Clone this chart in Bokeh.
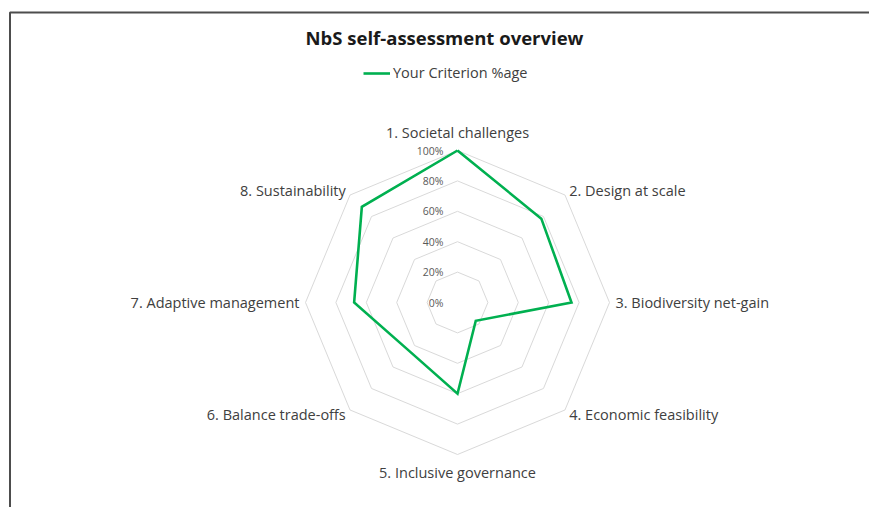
import numpy as np
from bokeh.plotting import figure
from bokeh.models import ColumnDataSource, Label, Legend, LegendItem, BoxAnnotation, Range1d
from bokeh.core.properties import value
from bokeh.embed import file_html
from bokeh.resources import INLINE

# ---------------- data ----------------
title_text = "NbS self-assessment overview"
series_name = "Your Criterion %age"
categories = [
    "1. Societal challenges",
    "2. Design at scale",
    "3. Biodiversity net-gain",
    "4. Economic feasibility",
    "5. Inclusive governance",
    "6. Balance trade-offs",
    "7. Adaptive management",
    "8. Sustainability",
]
scores = [100, 78, 75, 17, 60, 45, 68, 89]
ring_levels = [20, 40, 60, 80, 100]
tick_levels = [0, 20, 40, 60, 80, 100]
tick_labels = ["0%", "20%", "40%", "60%", "80%", "100%"]

# ---------------- layout ----------------
W, H = 869, 507
CX, CY = 457, 302      # radar centre, px from figure top-left
PX = 1.52              # px per percentage point
FONT = "Open Sans"
TEXT_COLOR = "#404040"
GREEN = "#00b050"

xr = Range1d(-CX / PX, (W - CX) / PX)
yr = Range1d(-(H - CY) / PX, CY / PX)
p = figure(width=W, height=H, output_backend="svg", toolbar_location=None,
           x_range=xr, y_range=yr,
           x_axis_type=None, y_axis_type=None, title=None, min_border=0)
p.grid.visible = False
p.outline_line_color = None
p.background_fill_color = "white"
p.border_fill_color = "white"

n = len(categories)
theta = np.pi / 2 - np.arange(n) * 2 * np.pi / n
cos_t, sin_t = np.cos(theta), np.sin(theta)

# grid rings
ring_xs = [list(np.append(lv * cos_t, lv * cos_t[0])) for lv in ring_levels]
ring_ys = [list(np.append(lv * sin_t, lv * sin_t[0])) for lv in ring_levels]
p.multi_line(xs=ring_xs, ys=ring_ys, line_color="#d9d9d9", line_width=1)

# series
sc = np.array(scores, dtype=float)
sx = np.append(sc * cos_t, sc[0] * cos_t[0])
sy = np.append(sc * sin_t, sc[0] * sin_t[0])
r_series = p.line(sx, sy, line_color=GREEN, line_width=2.6, line_join="miter")

# tick labels
p.text(x=[0] * len(tick_levels), y=tick_levels, text=tick_labels,
       x_offset=-14, text_align="right", text_baseline="middle",
       text_font=value(FONT), text_font_size="10.5px", text_color="#595959")

# category labels
aligns, baselines, xo, yo = [], [], [], []
for c, s in zip(cos_t, sin_t):
    if abs(c) < 0.1:
        aligns.append("center")
        if s > 0:
            baselines.append("bottom"); xo.append(0); yo.append(-9)
        else:
            baselines.append("top"); xo.append(0); yo.append(8)
    else:
        aligns.append("left" if c > 0 else "right")
        baselines.append("middle")
        xo.append(6 * c)
        yo.append(-6 * s)
lab_src = ColumnDataSource(dict(x=list(100 * cos_t), y=list(100 * sin_t), text=categories,
                                align=aligns, baseline=baselines, xo=xo, yo=yo))
p.text(x="x", y="y", text="text", source=lab_src, x_offset="xo", y_offset="yo",
       text_align="align", text_baseline="baseline",
       text_font=value(FONT), text_font_size="14.5px", text_color=TEXT_COLOR)

# title
p.add_layout(Label(x=444, y=H - 37, x_units="screen", y_units="screen", text=title_text,
                   text_align="center", text_baseline="middle", text_font=FONT,
                   text_font_size="18.5px", text_font_style="bold", text_color="#1a1a1a"))

# legend
legend = Legend(items=[LegendItem(label=series_name, renderers=[r_series])],
                location=(363, H - 82), orientation="horizontal",
                border_line_color=None, background_fill_alpha=0,
                padding=0, margin=0, glyph_width=27, glyph_height=16, label_standoff=3,
                label_text_font=FONT, label_text_font_size="14.5px",
                label_text_color=TEXT_COLOR, label_height=16)
p.add_layout(legend)

# chart-area frame: only top and left edges fall inside the picture
p.add_layout(BoxAnnotation(left=(9.5 - CX) / PX, top=(CY - 12) / PX,
                           right=xr.end + 40, bottom=yr.start - 40,
                           fill_alpha=0, line_color="#4d4d4d", line_alpha=1.0,
                           line_width=2))

open("out.html", "w").write(file_html(p, INLINE))
